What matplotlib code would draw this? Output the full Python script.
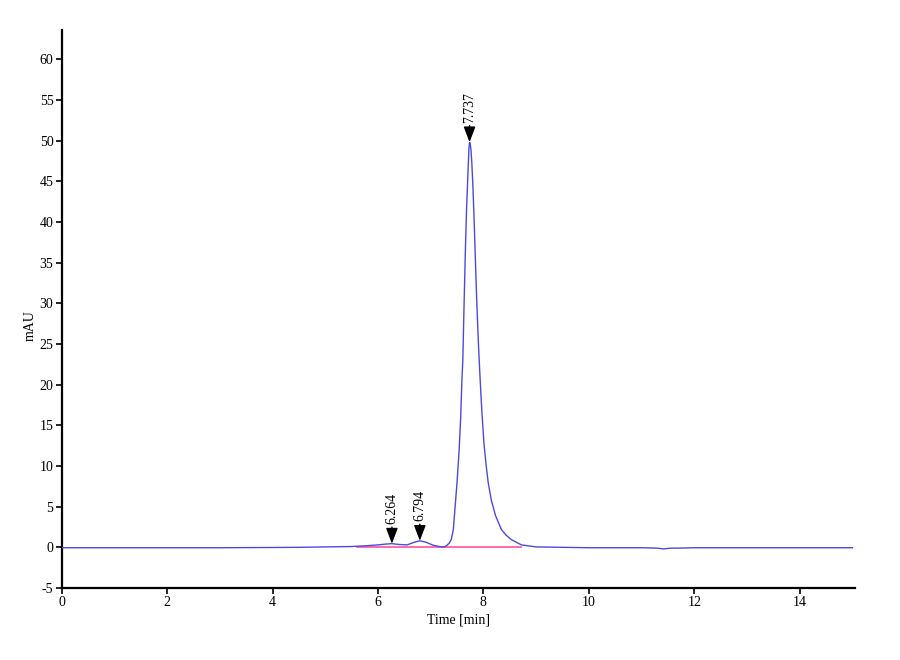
from matplotlib import pyplot as plt
import numpy as np

# chromatogram trace (time in min, signal in mAU)
time_min = [0.0, 1.0, 2.0, 3.0, 4.0, 4.5, 5.0, 5.5, 5.8, 6.0, 6.15, 6.264,
            6.4, 6.55, 6.7, 6.794, 6.9, 7.05, 7.2, 7.28, 7.35, 7.39, 7.43,
            7.45, 7.50, 7.54, 7.57, 7.59, 7.61, 7.63, 7.66, 7.68, 7.71,
            7.725, 7.737, 7.75, 7.765, 7.78, 7.80, 7.82, 7.85, 7.87, 7.89,
            7.91, 7.94, 7.97, 8.01, 8.05, 8.09, 8.15, 8.23, 8.34, 8.43, 8.53,
            8.72, 9.0, 9.5, 10.0, 10.5, 11.0, 11.3, 11.42, 11.55, 11.7, 12.0,
            12.5, 13.0, 14.0, 15.0]
signal_mau = [-0.05, -0.05, -0.05, -0.05, -0.02, 0.0, 0.05, 0.1, 0.2, 0.3,
              0.4, 0.45, 0.35, 0.3, 0.65, 0.8, 0.65, 0.25, 0.05, 0.1, 0.5,
              0.95, 2.2, 3.9, 8.0, 12.0, 16.1, 20.2, 23.1, 29.0, 37.0, 41.5,
              46.5, 49.0, 49.8, 49.6, 48.8, 47.3, 44.5, 41.0, 35.0, 31.0,
              27.5, 24.4, 20.4, 16.8, 12.8, 10.2, 8.0, 5.8, 3.9, 2.2, 1.5, 0.95,
              0.3, 0.05, 0.0, -0.05, -0.05, -0.05, -0.1, -0.2, -0.1, -0.1,
              -0.05, -0.05, -0.05, -0.05, -0.05]

# integration baseline under the peaks
base_time = [5.6, 8.72]
base_mau = [0.1, 0.1]

# labelled peaks
peak_times = [6.264, 6.794, 7.737]
peak_heights = [0.45, 0.8, 49.8]
peak_labels = ['6.264', '6.794', '7.737']

plt.rcParams['font.family'] = ['Liberation Serif', 'DejaVu Serif']
plt.rcParams['axes.unicode_minus'] = False

fig = plt.figure(figsize=(9, 6.6), dpi=100)
ax = fig.add_axes([0.0686, 0.1091, 0.8814, 0.8454])

ax.plot(base_time, base_mau, color='#ff4fa0', lw=1.2, zorder=2)
ax.plot(time_min, signal_mau, color='#4a4ae0', lw=1.0, zorder=3)

for t, h, lab in zip(peak_times, peak_heights, peak_labels):
    ax.annotate(lab, xy=(t, h), xytext=(0, 14), textcoords='offset points',
                rotation=90, ha='center', va='bottom', fontsize=10,
                arrowprops=dict(arrowstyle='-|>,head_length=0.95,head_width=0.36',
                                color='black', lw=1.0, shrinkA=0, shrinkB=0,
                                mutation_scale=10),
                zorder=4)

ax.set_xlim(0, 15.05)
ax.set_ylim(-5, 63.6)
ax.set_xticks(np.arange(0, 15, 2))
ax.set_yticks(np.arange(-5, 61, 5))
ax.tick_params(labelsize=10, length=4, width=1.2, pad=2)
for side in ['top', 'right']:
    ax.spines[side].set_visible(False)
for side in ['left', 'bottom']:
    ax.spines[side].set_linewidth(1.6)

ax.set_xlabel('Time [min]', fontsize=10, labelpad=3)
ax.set_ylabel('mAU', fontsize=10)
ax.yaxis.set_label_coords(-0.031, 0.47)

fig.savefig('out.png', dpi=100)
plt.close(fig)
